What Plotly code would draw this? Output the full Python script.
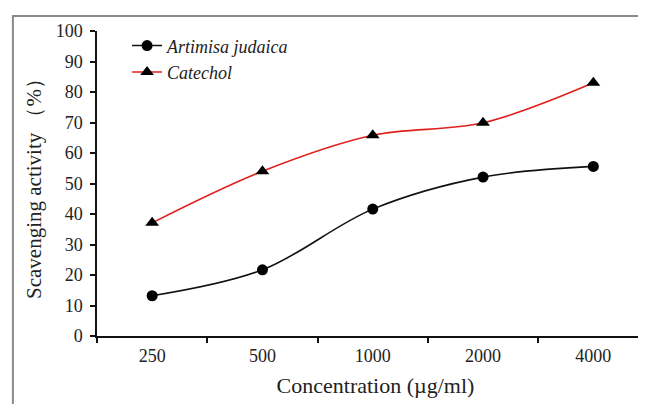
import plotly.graph_objects as go

categories = ["250", "500", "1000", "2000", "4000"]
artimisa = [13.2, 21.7, 41.6, 52.1, 55.6]
catechol = [37.1, 54.0, 65.8, 69.9, 83.0]
y_ticks = [0, 10, 20, 30, 40, 50, 60, 70, 80, 90, 100]

FONT = "Liberation Serif"

fig = go.Figure()
fig.add_trace(go.Scatter(
    x=categories, y=artimisa, mode="lines+markers", name="<i>Artimisa judaica</i>",
    line=dict(color="#111111", width=1.6, shape="spline", smoothing=1.0),
    marker=dict(symbol="circle", size=11, color="#000000"),
))
fig.add_trace(go.Scatter(
    x=categories, y=catechol, mode="lines+markers", name="<i>Catechol</i>",
    line=dict(color="#e0201c", width=1.6, shape="spline", smoothing=1.0),
    marker=dict(symbol="triangle-up", size=12, color="#000000"),
))

fig.update_layout(
    width=646, height=404,
    margin=dict(l=89, r=0, t=23, b=76),
    paper_bgcolor="white", plot_bgcolor="white",
    font=dict(family=FONT, color="#222222", size=16),
    showlegend=True,
    legend=dict(x=0.054, y=1.012, xanchor="left", yanchor="top",
                font=dict(family=FONT, size=18, color="#222222"),
                bgcolor="rgba(0,0,0,0)", tracegroupgap=0),
    xaxis=dict(
        type="category", range=[-0.5, 4.55],
        showline=True, linecolor="#111111", linewidth=1.5,
        ticks="outside", ticklen=5, tickcolor="#111111", tickwidth=1.5,
        tickson="boundaries", showgrid=False, zeroline=False,
        ticklabelstandoff=3,
        tickfont=dict(family=FONT, size=18, color="#222222"),
        title=dict(text="Concentration (µg/ml)", font=dict(family=FONT, size=22, color="#222222"), standoff=12),
    ),
    yaxis=dict(
        range=[0, 100], tickvals=y_ticks,
        showline=True, linecolor="#111111", linewidth=1.5,
        ticks="outside", ticklen=5, tickcolor="#111111", tickwidth=1.5,
        showgrid=False, zeroline=False,
        ticklabelstandoff=4,
        tickfont=dict(family=FONT, size=18, color="#222222"),
        title=dict(text="Scavenging activity （%）", font=dict(family=FONT, size=21, color="#222222"), standoff=8),
    ),
)

# outer grey frame of the figure panel
fig.add_shape(type="rect", xref="paper", yref="paper",
              x0=-0.151, x1=1.05, y0=-0.4, y1=1.049,
              line=dict(color="#8a8a8a", width=2), fillcolor="rgba(0,0,0,0)", layer="below")

fig.write_html("out.html")
